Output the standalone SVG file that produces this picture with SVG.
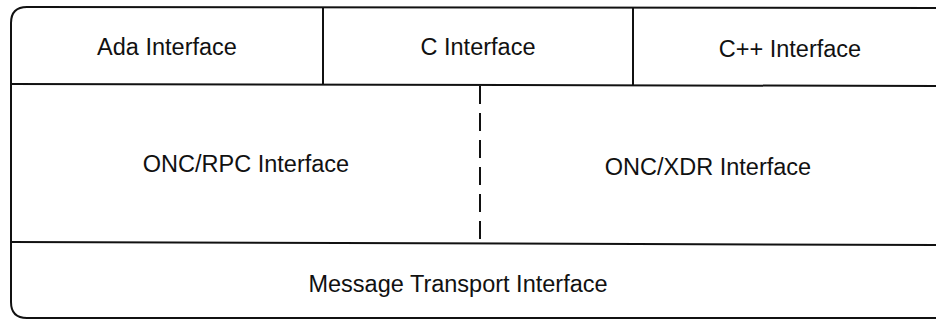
<svg xmlns="http://www.w3.org/2000/svg" width="936" height="320" viewBox="0 0 936 320">
<style>
.ln{stroke:#111;stroke-width:2;fill:none}
.dash{stroke:#111;stroke-width:2;fill:none;stroke-dasharray:18,9}
.t{font-family:"Liberation Sans",Arial,sans-serif;font-size:23.5px;fill:#111;text-anchor:middle}
</style>
<rect width="936" height="320" fill="#fff"/>
<g id="frame">
<path class="ln" d="M950,8 L27,7 Q11,7 11,23 L11,302 Q11,318 27,318 L950,318"/>
</g>
<g id="connectors">
<line class="ln" x1="11" y1="84" x2="936" y2="86"/>
<line class="ln" x1="11" y1="242" x2="936" y2="245"/>
<line class="ln" x1="323" y1="8" x2="323" y2="84"/>
<line class="ln" x1="633" y1="8" x2="633" y2="85"/>
<line class="dash" x1="480" y1="86" x2="480" y2="243"/>
</g>
<g id="ada"><text class="t" x="167" y="55">Ada Interface</text></g>
<g id="c"><text class="t" x="478" y="55">C Interface</text></g>
<g id="cpp"><text class="t" x="790" y="57">C++ Interface</text></g>
<g id="oncrpc"><text class="t" x="246" y="172">ONC/RPC Interface</text></g>
<g id="oncxdr"><text class="t" x="708" y="175">ONC/XDR Interface</text></g>
<g id="mti"><text class="t" x="458" y="292">Message Transport Interface</text></g>
</svg>
